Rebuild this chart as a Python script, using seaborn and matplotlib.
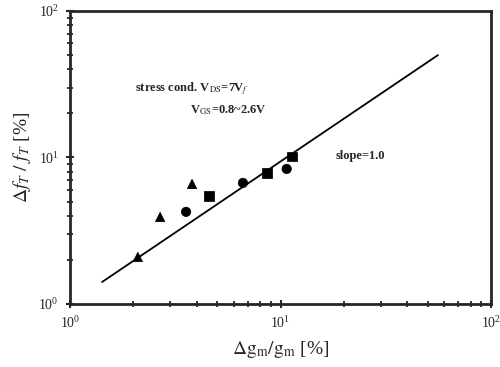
import pandas as pd
import matplotlib
matplotlib.use("Agg")
import matplotlib.pyplot as plt
import seaborn as sns

# data
tri_x = [2.10, 2.68, 3.80]
tri_y = [2.09, 3.92, 6.59]
circ_x = [3.56, 6.63, 10.7]
circ_y = [4.25, 6.70, 8.35]
sq_x = [4.58, 8.63, 11.35]
sq_y = [5.46, 7.84, 10.1]
fit_x = [1.42, 56.0]
fit_y = [1.41, 50.0]

df = pd.DataFrame({
    "x": tri_x + circ_x + sq_x,
    "y": tri_y + circ_y + sq_y,
    "group": ["tri"] * 3 + ["circ"] * 3 + ["sq"] * 3,
})

sns.set_style("ticks")
plt.rcParams['font.family'] = ['Liberation Serif', 'DejaVu Serif']
plt.rcParams['mathtext.fontset'] = 'stix'

fig = plt.figure(figsize=(5, 3.67), dpi=100)
ax = fig.add_axes([0.14, 0.172, 0.842, 0.798])

sns.lineplot(x=fit_x, y=fit_y, color="black", linewidth=1.3, ax=ax)
sns.scatterplot(data=df, x="x", y="y", style="group",
                markers={"tri": "^", "circ": "o", "sq": "s"},
                color="black", s=45, edgecolor="black", legend=False, ax=ax)

ax.set_xscale("log")
ax.set_yscale("log")
ax.set_xlim(1, 100)
ax.set_ylim(1, 100)

for sp in ax.spines.values():
    sp.set_linewidth(2)
    sp.set_visible(True)

ax.tick_params(which="major", direction="inout", length=6, width=1.5, labelsize=10, pad=5)
ax.tick_params(which="minor", direction="inout", length=4, width=1.3)

ax.set_xlabel(r"$\Delta\mathrm{g_m/g_m}$ [%]", fontsize=14, labelpad=6)
ax.set_ylabel(r"$\Delta f_T\ /\ f_T$ [%]", fontsize=14, labelpad=4)

ax.text(0.155, 0.725, r"stress cond. V$_{\rm DS}$=7V$_f$", transform=ax.transAxes,
        fontsize=9, fontweight="bold")
ax.text(0.285, 0.65, r"V$_{\rm GS}$=0.8~2.6V", transform=ax.transAxes,
        fontsize=9, fontweight="bold")
ax.text(0.63, 0.495, "slope=1.0", transform=ax.transAxes, fontsize=9, fontweight="bold")

fig.savefig("out.png", dpi=100)
